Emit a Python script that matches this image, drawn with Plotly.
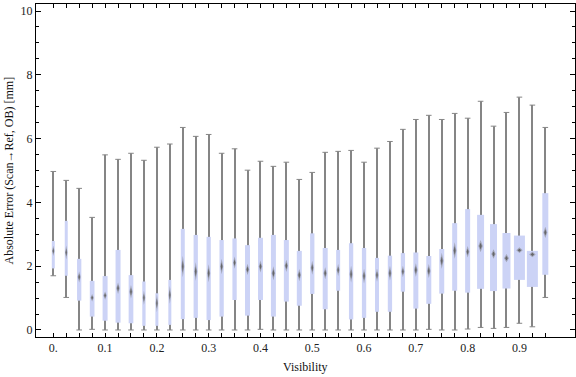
import plotly.graph_objects as go

# ---------------- data ----------------
visibility = [0.0, 0.025, 0.05, 0.075, 0.1, 0.125, 0.15, 0.175, 0.2, 0.225,
              0.25, 0.275, 0.3, 0.325, 0.35, 0.375, 0.4, 0.425, 0.45, 0.475,
              0.5, 0.525, 0.55, 0.575, 0.6, 0.625, 0.65, 0.675, 0.7, 0.725,
              0.75, 0.775, 0.8, 0.825, 0.85, 0.875, 0.9, 0.925, 0.95]

whisker_low = [1.70, 1.02, 0.00, 0.02, 0.00, 0.00, 0.00, 0.00, 0.00, 0.00,
               0.00, 0.00, 0.00, 0.00, 0.00, 0.00, 0.02, 0.00, 0.00, 0.00,
               0.00, 0.00, 0.00, 0.00, 0.00, 0.00, 0.00, 0.00, 0.00, 0.02,
               0.00, 0.00, 0.03, 0.08, 0.05, 0.08, 0.21, 0.10, 1.02]

q1 = [1.93, 1.70, 0.92, 0.42, 0.29, 0.23, 0.21, 0.13, 0.13, 0.16,
      0.34, 0.38, 0.31, 0.42, 0.94, 0.45, 0.94, 0.42, 0.89, 0.76,
      1.13, 0.65, 1.23, 0.33, 0.38, 0.57, 0.57, 1.20, 0.67, 0.82,
      1.14, 1.23, 1.17, 1.29, 1.22, 1.30, 1.57, 1.35, 1.73]

median = [2.48, 2.43, 1.66, 1.01, 1.08, 1.31, 1.20, 1.01, 0.84, 1.10,
          1.99, 1.83, 1.78, 1.99, 2.11, 1.90, 1.99, 1.78, 2.01, 1.72,
          1.95, 1.78, 1.88, 1.75, 1.69, 1.72, 1.78, 1.83, 1.88, 1.85,
          2.17, 2.49, 2.45, 2.63, 2.38, 2.25, 2.50, 2.37, 3.06]

q3 = [2.79, 3.42, 2.23, 1.54, 1.69, 2.51, 1.72, 1.52, 1.15, 1.57,
      3.17, 2.98, 2.92, 2.82, 2.87, 2.66, 2.89, 2.98, 2.82, 2.48,
      3.03, 2.57, 2.51, 2.72, 2.57, 2.26, 2.33, 2.41, 2.43, 2.32,
      2.54, 3.35, 3.79, 3.61, 3.32, 3.04, 2.96, 2.48, 4.29]

whisker_high = [4.97, 4.69, 4.44, 3.53, 5.49, 5.35, 5.54, 5.32, 5.73, 5.83,
                6.35, 6.07, 6.13, 5.54, 5.68, 5.01, 5.29, 5.13, 5.26, 4.72,
                4.94, 5.57, 5.60, 5.63, 5.26, 5.70, 5.91, 6.29, 6.60, 6.73,
                6.60, 6.79, 6.64, 7.17, 6.39, 6.82, 7.30, 7.05, 6.35]

# half-height of the median notch (diamond), in mm
notch_half = [0.16, 0.22, 0.17, 0.12, 0.13, 0.18, 0.21, 0.22, 0.28, 0.28,
              0.34, 0.29, 0.28, 0.24, 0.19, 0.18, 0.19, 0.22, 0.19, 0.19,
              0.22, 0.19, 0.19, 0.26, 0.23, 0.21, 0.23, 0.18, 0.21, 0.22,
              0.25, 0.26, 0.18, 0.19, 0.15, 0.13, 0.09, 0.09, 0.18]

x_label_vals = [0.0, 0.1, 0.2, 0.3, 0.4, 0.5, 0.6, 0.7, 0.8, 0.9]
x_label_text = ["0.", "0.1", "0.2", "0.3", "0.4", "0.5", "0.6", "0.7", "0.8", "0.9"]
y_tick_vals = [0, 2, 4, 6, 8, 10]
y_tick_text = ["0", "2", "4", "6", "8", "10"]

# ---------------- style ----------------
PX_PER_X = 517.9                       # horizontal pixels per x unit
box_px = [3, 3, 4.3, 4.7, 5, 5, 4.7, 3.3, 3, 3, 4, 4.3, 4.3, 4.3, 4.3, 5, 5, 5, 5, 5,
          4.3, 5, 4, 4.3, 4.3, 4, 4.3, 4.3, 5, 5, 5, 5, 5, 7, 7, 8, 11, 11, 6]
BOX_COLOR = "#ccd3f6"
WHISKER_COLOR = "#858585"
FONT = "Liberation Serif, Times New Roman, serif"

box_w = [p / PX_PER_X for p in box_px]
whisker_w = 1.0 / PX_PER_X

fig = go.Figure()

# whiskers (thin bars under the boxes)
fig.add_trace(go.Bar(
    x=visibility, base=whisker_low,
    y=[h - l for h, l in zip(whisker_high, whisker_low)],
    width=whisker_w, marker=dict(color=WHISKER_COLOR, line=dict(width=0)),
    hoverinfo="skip"))

# boxes
fig.add_trace(go.Bar(
    x=visibility, base=q1, y=[b - a for a, b in zip(q1, q3)],
    width=box_w, marker=dict(color=BOX_COLOR, line=dict(width=0))))

# whisker caps
fig.add_trace(go.Scatter(
    x=visibility + visibility, y=whisker_low + whisker_high, mode="markers",
    marker=dict(symbol="line-ew", size=4,
                line=dict(width=1.0, color=WHISKER_COLOR)),
    hoverinfo="skip"))


def diamonds(scale):
    xs, ys = [], []
    for v, m, h, w in zip(visibility, median, notch_half, box_px):
        hw = (0.25 * w + 0.5) / PX_PER_X * scale
        hh = h * scale
        xs += [v - hw, v, v + hw, v, v - hw, None]
        ys += [m, m + hh, m, m - hh, m, None]
    return xs, ys


for scale, col in [(1.0, "rgba(125,125,125,0.5)"), (0.55, "rgba(90,90,90,0.85)")]:
    dx, dy = diamonds(scale)
    fig.add_trace(go.Scatter(x=dx, y=dy, mode="lines", fill="toself",
                             fillcolor=col, line=dict(width=0, color=col),
                             hoverinfo="skip"))

x_ticktext = []
for v in visibility:
    lab = ""
    for lv, lt in zip(x_label_vals, x_label_text):
        if abs(v - lv) < 1e-9:
            lab = lt
    x_ticktext.append(lab)

fig.update_layout(
    width=576, height=377,
    margin=dict(l=36, r=1, t=4, b=40),
    paper_bgcolor="white", plot_bgcolor="white",
    showlegend=False, barmode="overlay",
    font=dict(family=FONT, size=12, color="#222222"),
    xaxis=dict(range=[-0.0334, 1.0073], tickmode="array",
               tickvals=visibility, ticktext=x_ticktext,
               ticks="inside", ticklen=4, tickwidth=1, tickcolor="black",
               showline=True, linecolor="black", linewidth=1,
               mirror="allticks", showgrid=False, zeroline=False,
               tickfont=dict(family=FONT, size=12, color="#222222")),
    yaxis=dict(range=[-0.22, 10.22], tickmode="array",
               tickvals=y_tick_vals, ticktext=y_tick_text,
               ticks="inside", ticklen=5, tickwidth=1, tickcolor="black",
               minor=dict(dtick=0.5, tick0=0, ticks="inside", ticklen=3,
                          tickcolor="black", showgrid=False),
               showline=True, linecolor="black", linewidth=1,
               mirror="allticks", showgrid=False, zeroline=False,
               tickfont=dict(family=FONT, size=12, color="#222222")),
    annotations=[
        dict(text="Visibility", xref="paper", yref="paper",
             x=0.5, y=(337 - 367) / 333, xanchor="center", yanchor="middle",
             showarrow=False, font=dict(family=FONT, size=12, color="#111111")),
        dict(text="Absolute Error (Scan\u2192Ref, OB) [mm]", xref="paper",
             yref="paper", x=(8 - 36) / 539, y=0.5, textangle=-90,
             xanchor="center", yanchor="middle", showarrow=False,
             font=dict(family="Liberation Serif, DejaVu Serif, serif", size=12,
                       color="#111111")),
    ],
)

fig.write_html("out.html",
               config={"displayModeBar": False},
               post_script="document.body.style.margin='0px';"
                           "document.body.style.overflow='hidden';")
